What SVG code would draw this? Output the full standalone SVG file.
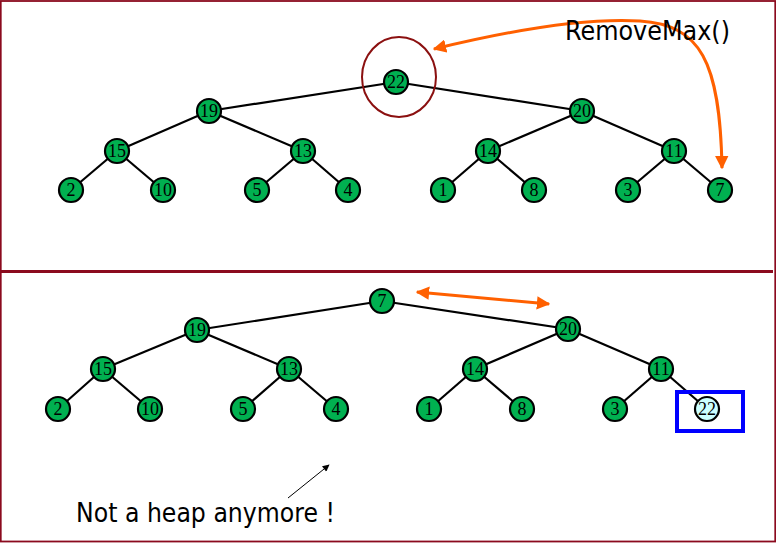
<svg xmlns="http://www.w3.org/2000/svg" width="776" height="543" viewBox="0 0 776 543">
<style>
.n circle{fill:#00b050;stroke:#000;stroke-width:2.2}
.n text{font-family:"Liberation Serif",serif;font-size:18px;text-anchor:middle;fill:#000}
.hl circle{fill:#ccffff}
.e line{stroke:#000;stroke-width:2.2}
.or{fill:none;stroke:#ff6000;stroke-width:3}
.lbl{font-family:"DejaVu Sans","Liberation Sans",sans-serif;font-size:26px;fill:#000}
</style>
<defs>
<marker id="oa" viewBox="0 0 10 10" refX="9" refY="5" markerWidth="4.5" markerHeight="4.5" orient="auto-start-reverse" markerUnits="strokeWidth">
<path d="M0,0 L10,5 L0,10 Z" fill="#ff6000"/>
</marker>
<marker id="ba" viewBox="0 0 10 10" refX="9" refY="5" markerWidth="8" markerHeight="7" orient="auto" markerUnits="strokeWidth">
<path d="M0,0 L10,5 L0,10 Z" fill="#000"/>
</marker>
</defs>
<rect width="776" height="543" fill="#fff"/>
<g id="frame" fill="none" stroke="#8b0a1e">
<rect x="0.75" y="1" width="774.5" height="540.5" stroke-width="1.8"/>
<line x1="0" y1="271.5" x2="773" y2="271.5" stroke-width="3"/>
</g>
<g id="connectors" class="e">
<line x1="396" y1="82" x2="209" y2="111"/>
<line x1="396" y1="82" x2="582" y2="111"/>
<line x1="209" y1="111" x2="117" y2="151"/>
<line x1="209" y1="111" x2="303" y2="151"/>
<line x1="582" y1="111" x2="488" y2="151"/>
<line x1="582" y1="111" x2="674" y2="151"/>
<line x1="117" y1="151" x2="71" y2="190"/>
<line x1="117" y1="151" x2="163" y2="190"/>
<line x1="303" y1="151" x2="257" y2="190"/>
<line x1="303" y1="151" x2="348" y2="190"/>
<line x1="488" y1="151" x2="443" y2="190"/>
<line x1="488" y1="151" x2="534" y2="190"/>
<line x1="674" y1="151" x2="628" y2="190"/>
<line x1="674" y1="151" x2="720" y2="190"/>
<line x1="382" y1="301" x2="197" y2="330"/>
<line x1="382" y1="301" x2="568" y2="329"/>
<line x1="197" y1="330" x2="103" y2="369"/>
<line x1="197" y1="330" x2="289" y2="369"/>
<line x1="568" y1="329" x2="475" y2="369"/>
<line x1="568" y1="329" x2="661" y2="369"/>
<line x1="103" y1="369" x2="58" y2="409"/>
<line x1="103" y1="369" x2="150" y2="409"/>
<line x1="289" y1="369" x2="243" y2="409"/>
<line x1="289" y1="369" x2="336" y2="409"/>
<line x1="475" y1="369" x2="429" y2="409"/>
<line x1="475" y1="369" x2="522" y2="409"/>
<line x1="661" y1="369" x2="615" y2="409"/>
<line x1="661" y1="369" x2="707" y2="409"/>
<path class="or" d="M434,49 C520,28 590,18 640,21 C700,25 720,60 722,168" marker-start="url(#oa)" marker-end="url(#oa)"/>
<line class="or" x1="417" y1="292" x2="549" y2="304" marker-start="url(#oa)" marker-end="url(#oa)" style="stroke:#ff6000;stroke-width:3"/>
<line x1="288" y1="498" x2="329" y2="465" marker-end="url(#ba)" style="stroke:#000;stroke-width:1"/>
</g>
<ellipse id="highlight-circle" cx="399" cy="77" rx="37" ry="40" fill="none" stroke="#8b1010" stroke-width="2"/>
<rect id="highlight-box" x="677" y="392" width="66" height="39" fill="none" stroke="#0000ff" stroke-width="4"/>
<g id="top-tree">
<g id="t22" class="n"><circle cx="396" cy="82" r="12"/><text x="396" y="88">22</text></g>
<g id="t19" class="n"><circle cx="209" cy="111" r="12"/><text x="209" y="117">19</text></g>
<g id="t20" class="n"><circle cx="582" cy="111" r="12"/><text x="582" y="117">20</text></g>
<g id="t15" class="n"><circle cx="117" cy="151" r="12"/><text x="117" y="157">15</text></g>
<g id="t13" class="n"><circle cx="303" cy="151" r="12"/><text x="303" y="157">13</text></g>
<g id="t14" class="n"><circle cx="488" cy="151" r="12"/><text x="488" y="157">14</text></g>
<g id="t11" class="n"><circle cx="674" cy="151" r="12"/><text x="674" y="157">11</text></g>
<g id="t2" class="n"><circle cx="71" cy="190" r="12"/><text x="71" y="196">2</text></g>
<g id="t10" class="n"><circle cx="163" cy="190" r="12"/><text x="163" y="196">10</text></g>
<g id="t5" class="n"><circle cx="257" cy="190" r="12"/><text x="257" y="196">5</text></g>
<g id="t4" class="n"><circle cx="348" cy="190" r="12"/><text x="348" y="196">4</text></g>
<g id="t1" class="n"><circle cx="443" cy="190" r="12"/><text x="443" y="196">1</text></g>
<g id="t8" class="n"><circle cx="534" cy="190" r="12"/><text x="534" y="196">8</text></g>
<g id="t3" class="n"><circle cx="628" cy="190" r="12"/><text x="628" y="196">3</text></g>
<g id="t7" class="n"><circle cx="720" cy="190" r="12"/><text x="720" y="196">7</text></g>
</g>
<g id="bottom-tree">
<g id="b7" class="n"><circle cx="382" cy="301" r="12"/><text x="382" y="307">7</text></g>
<g id="b19" class="n"><circle cx="197" cy="330" r="12"/><text x="197" y="336">19</text></g>
<g id="b20" class="n"><circle cx="568" cy="329" r="12"/><text x="568" y="335">20</text></g>
<g id="b15" class="n"><circle cx="103" cy="369" r="12"/><text x="103" y="375">15</text></g>
<g id="b13" class="n"><circle cx="289" cy="369" r="12"/><text x="289" y="375">13</text></g>
<g id="b14" class="n"><circle cx="475" cy="369" r="12"/><text x="475" y="375">14</text></g>
<g id="b11" class="n"><circle cx="661" cy="369" r="12"/><text x="661" y="375">11</text></g>
<g id="b2" class="n"><circle cx="58" cy="409" r="12"/><text x="58" y="415">2</text></g>
<g id="b10" class="n"><circle cx="150" cy="409" r="12"/><text x="150" y="415">10</text></g>
<g id="b5" class="n"><circle cx="243" cy="409" r="12"/><text x="243" y="415">5</text></g>
<g id="b4" class="n"><circle cx="336" cy="409" r="12"/><text x="336" y="415">4</text></g>
<g id="b1" class="n"><circle cx="429" cy="409" r="12"/><text x="429" y="415">1</text></g>
<g id="b8" class="n"><circle cx="522" cy="409" r="12"/><text x="522" y="415">8</text></g>
<g id="b3" class="n"><circle cx="615" cy="409" r="12"/><text x="615" y="415">3</text></g>
<g id="b22" class="n hl"><circle cx="707" cy="409" r="12"/><text x="707" y="415">22</text></g>
</g>
<text id="removemax" class="lbl" x="565" y="40" textLength="165" lengthAdjust="spacingAndGlyphs">RemoveMax()</text>
<text id="not-heap" class="lbl" x="76" y="522" textLength="259" lengthAdjust="spacingAndGlyphs">Not a heap anymore !</text>
</svg>
